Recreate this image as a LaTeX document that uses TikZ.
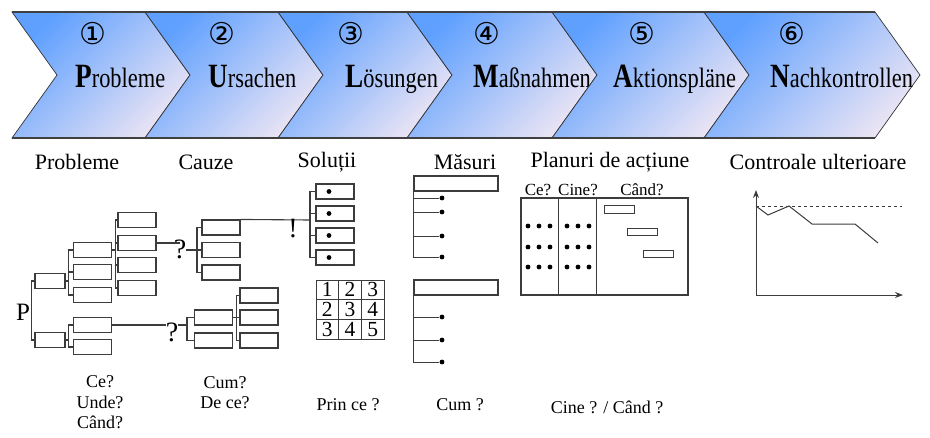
\documentclass[tikz,border=0pt]{standalone}
\usepackage{fontspec}
\setmainfont{Liberation Serif}
\newfontfamily\narrowserif{Liberation Serif}[FakeStretch=0.8]
\newfontfamily\circfont{DejaVu Sans}
\usetikzlibrary{arrows, arrows.meta, calc}
\definecolor{chevblue}{RGB}{95,160,255}
\definecolor{chevmid}{RGB}{140,195,255}
\definecolor{chevlight}{RGB}{234,228,244}
\definecolor{treegray}{RGB}{60,60,60}
\tikzstyle{chev} = [top color=chevblue, middle color=chevmid, bottom color=chevlight, shading angle=45, draw=black!80, line width=0.7pt]
\tikzstyle{box} = [rectangle, draw=treegray, line width=1.1pt, fill=white, minimum width=38pt, minimum height=15pt, inner sep=0]
\tikzstyle{smallbox} = [box, minimum width=30pt]
\tikzstyle{bar} = [rectangle, draw=treegray, line width=1pt, minimum width=30pt, minimum height=7.5pt, inner sep=0]
\tikzstyle{dot} = [circle, fill=black, inner sep=0, minimum size=4.8pt]
\tikzstyle{cell} = [rectangle, draw=treegray, line width=1pt, minimum width=22.7pt, minimum height=19.7pt, inner sep=0]
\tikzstyle{line} = [treegray, line width=1.1pt]
\tikzstyle{heading} = [font=\fontsize{22}{24}\selectfont]
\tikzstyle{question} = [font=\fontsize{18}{20.5}\selectfont, align=center]
\tikzstyle{punct} = [font=\fontsize{28}{28}\selectfont, inner sep=0, anchor=north]
\newcommand{\chevtext}[2]{{\narrowserif\bfseries\fontsize{34}{34}\selectfont #1}{\narrowserif\fontsize{28}{28}\selectfont #2}}

\begin{document}
\begin{tikzpicture}[x=1pt, y=-1pt]
\useasboundingbox (0,0) rectangle (930,437);

% Prozesskette
\foreach \a/\b/\n/\t/\f/\r/\c in {12/145/93/75/P/robleme/①, 145/278/222/208/U/rsachen/②, 278/407/351/345/L/ösungen/③, 407/552/487/473/M/aßnahmen/④, 552/704/642/613/A/ktionspläne/⑤, 704/875/792/770/N/achkontrollen/⑥}{
  \shadedraw[chev] (\a,12) -- (\b,12) -- (\b+45,75) -- (\b,138) -- (\a,138) -- (\a+45,75) -- cycle;
  \node[font=\circfont\fontsize{30}{30}\selectfont, inner sep=0] (num\f) at (\n,34) {\c};
  \node[anchor=base west, inner sep=0] (step\f) at (\t,87) {\chevtext{\f}{\r}};
}
\draw[line width=1.6pt, black!75] (12,12) -- (875,12);
\draw[line width=1.6pt, black!75] (12,138) -- (875,138);

% Ueberschriften
\node[heading] (hprob) at (77,162) {Probleme};
\node[heading] (hcauze) at (206,162) {Cauze};
\node[heading] (hsol) at (327,162) {Soluții};
\node[heading] (hmas) at (465,162) {Măsuri};
\node[heading] (hplan) at (610,162) {Planuri de acțiune};
\node[heading] (hctrl) at (818,162) {Controale ulterioare};

% Probleme
\node[font=\fontsize{25}{25}\selectfont] (P) at (23,312) {P};
\node[smallbox] (p1) at (50,281) {};
\node[smallbox] (p2) at (50,340) {};
\draw[line] (p1.west) -- ++(-3,0) |- (p2.west);

\node[box] (a1) at (92.5,250) {};
\node[box] (a2) at (92.5,272) {};
\node[box] (a3) at (92.5,295) {};
\draw[line] (p1.east) -- ++(3,0) coordinate (ja);
\draw[line] (a1.west) -| (ja) |- (a3.west);
\draw[line] (a2.west) -- (a2.west -| ja);

\node[box] (b1) at (137,220) {};
\node[box] (b2) at (137,243) {};
\node[box] (b3) at (137,265) {};
\node[box] (b4) at (137,288) {};
\draw[line] (a1.east) -- ++(3,0) coordinate (jb);
\draw[line] (b1.west) -| (jb) |- (b4.west);
\foreach \i in {2,3} \draw[line] (b\i.west) -- (b\i.west -| jb);

\node[box] (c1) at (92.5,325) {};
\node[box] (c2) at (92.5,347) {};
\draw[line] (p2.east) -- ++(3,0) coordinate (jc);
\draw[line] (c1.west) -| (jc) |- (c2.west);

% Cauze
\node[punct] (q1) at (180,240) {?};
\draw[line] (b2.east) -- (b2.east -| q1);
\node[box] (d1) at (221,227.5) {};
\node[box] (d2) at (221,250) {};
\node[box] (d3) at (221,272.5) {};
\coordinate (jd) at (197,250);
\draw[line] (d1.west) -| (jd) |- (d3.west);
\draw[line] (q1.east |- d2) -- (d2.west);

\node[punct] (q2) at (172,323) {?};
\node[box] (e1) at (213.5,317.5) {};
\node[box] (e2) at (213.5,340.5) {};
\coordinate (je) at (187,325);
\draw[line] (c1.east) -- (c1.east -| q2.west);
\draw[line] (q2.east |- je) -- (je);
\draw[line] (e1.west) -| (je) |- (e2.west);

\node[box] (f1) at (259,295.5) {};
\node[box] (f2) at (259,317.5) {};
\node[box] (f3) at (259,340.5) {};
\draw[line] (e1.east) -- ++(3,0) coordinate (jf);
\draw[line] (f1.west) -| (jf) |- (f3.west);
\draw[line] (f2.west) -- (f2.west -| jf);

% Solutii
\foreach \y [count=\i] in {191.5,213.5,235.5,257.5}{
  \node[box] (s\i) at (335,\y) {};
  \node[dot, xshift=-6pt] (sd\i) at (s\i) {};
}
\coordinate (js) at (310,220);
\draw[line] (d1.north east) -- (js);
\draw[line] (s1.west) -| (js) |- (s4.west);
\foreach \i in {2,3} \draw[line] (s\i.west) -- (s\i.west -| js);
\node[punct] (excl) at (293,219) {!};

\foreach \r in {1,2,3}{
  \foreach \c in {1,2,3}{
    \pgfmathtruncatemacro{\v}{\r+\c-1}
    \node[cell] (g\r\c) at (304.7+22.67*\c, 270.2+19.67*\r) {};
    \node[inner sep=0, font=\fontsize{21.5}{21.5}\selectfont] (n\r\c) at (g\r\c) {\v};
  }
}

% Masuri
\node[box, minimum width=84pt] (m1) at (456,183.5) {};
\foreach \y [count=\i] in {198,212,236,257}{
  \node[dot] (ma\i) at (442,\y) {};
  \draw[line, line width=1pt] (m1.south west) |- (ma\i);
}
\node[box, minimum width=84pt] (m2) at (456,287.5) {};
\foreach \y [count=\i] in {317,340,362}{
  \node[dot] (mb\i) at (442,\y) {};
  \draw[line, line width=1pt] (m2.south west) |- (mb\i);
}

% Planuri de actiune
\node[font=\fontsize{17}{17}\selectfont] (pce) at (538,190) {Ce?};
\node[font=\fontsize{17}{17}\selectfont] (pcine) at (578,190) {Cine?};
\node[font=\fontsize{17}{17}\selectfont] (pcand) at (642,190) {Când?};
\node[rectangle, draw=treegray, line width=1.1pt, minimum width=167pt, minimum height=97pt] (plan) at (604.5,246.5) {};
\draw[line] ($(plan.north west)+(38,0)$) -- ($(plan.south west)+(38,0)$);
\draw[line] ($(plan.north west)+(76,0)$) -- ($(plan.south west)+(76,0)$);
\foreach \x in {528,539,550,567,578,589}
  \foreach \y in {226,247,267}
    \node[dot] at (\x,\y) {};
\node[bar] (t1) at (619.5,209.5) {};
\node[bar] (t2) at (642,232) {};
\node[bar] (t3) at (658,254) {};

% Controale ulterioare
\coordinate (o) at (756,295);
\draw[line, line width=1pt, -{Stealth[length=8pt, width=6pt]}] (o) -- (756,190);
\draw[line, line width=1pt, -{Stealth[length=8pt, width=6pt]}] (o) -- (903,295);
\draw[line, line width=0.8pt, dashed] (756,206) -- (902,206);
\draw[line, line width=1pt] (756,206) -- (768,215) -- (789,206) -- (812,224) -- (855,224) -- (878,243);

% Fragen
\node[question] (wq1) at (100,402.5) {Ce?\\Unde?\\Când?};
\node[question] (wq2) at (225,392.5) {Cum?\\De ce?};
\node[question] (wq3) at (348,405) {Prin ce ?};
\node[question] (wq4) at (460,405) {Cum ?};
\node[question] (wq5) at (607,407) {Cine ? / Când ?};

\end{tikzpicture}
\end{document}
